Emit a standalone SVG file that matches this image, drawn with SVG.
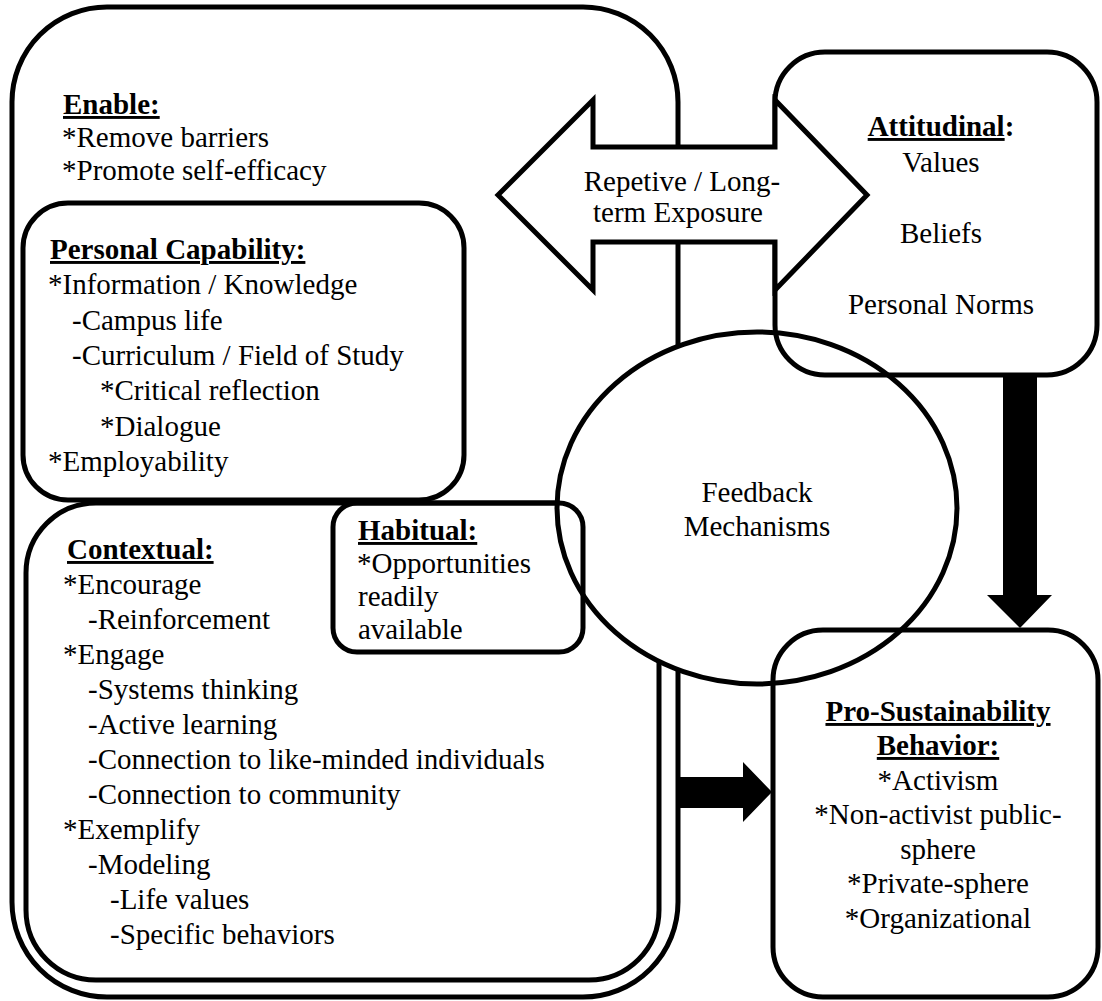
<svg xmlns="http://www.w3.org/2000/svg" width="1102" height="1001" viewBox="0 0 1102 1001">
<style>
.box{fill:none;stroke:#000;stroke-width:5}
.wbox{fill:#fff;stroke:#000;stroke-width:5}
text{font-family:"Liberation Serif","Times New Roman",serif;font-size:29px;fill:#000}
.b{font-weight:bold}
.u{text-decoration:underline}
.m{text-anchor:middle}
</style>
<rect width="1102" height="1001" fill="#fff"/>
<g id="outer">
<rect class="box" x="12" y="7" width="666" height="990" rx="95" ry="95"/>
</g>
<g id="contextual-box">
<rect class="box" x="26" y="503" width="633" height="477" rx="70" ry="70"/>
</g>
<g id="personal-capability-box">
<rect class="box" x="23" y="203" width="441" height="297" rx="45" ry="45"/>
</g>
<g id="feedback">
<ellipse class="wbox" cx="757" cy="508" rx="200" ry="176" stroke-width="4.5"/>
<text class="m" x="757" y="502">Feedback</text>
<text class="m" x="757" y="536">Mechanisms</text>
</g>
<g id="attitudinal">
<rect class="box" x="775" y="52" width="322" height="323" rx="50" ry="50"/>
<text class="m" x="941" y="136"><tspan class="b u">Attitudinal</tspan><tspan class="b">:</tspan></text>
<text class="m" x="941" y="172">Values</text>
<text class="m" x="941" y="243">Beliefs</text>
<text class="m" x="941" y="314">Personal Norms</text>
</g>
<g id="exposure">
<polygon class="wbox" stroke-linejoin="miter" points="498,195 593,100 593,147 775,147 775,100 867,195 775,290 775,242 593,242 593,290"/>
<text class="m" x="682" y="191">Repetive / Long-</text>
<text class="m" x="678" y="222">term Exposure</text>
</g>
<g id="habitual">
<rect class="box" x="333" y="503" width="250" height="149" rx="24" ry="24"/>
<text class="b u" x="358" y="540">Habitual:</text>
<text x="357" y="573">*Opportunities</text>
<text x="358" y="606">readily</text>
<text x="358" y="639">available</text>
</g>
<g id="pro-sustainability">
<rect class="box" x="773" y="630" width="325" height="367" rx="50" ry="50"/>
<text class="m b u" x="938" y="721">Pro-Sustainability</text>
<text class="m b u" x="938" y="755">Behavior:</text>
<text class="m" x="938" y="790">*Activism</text>
<text class="m" x="938" y="824">*Non-activist public-</text>
<text class="m" x="938" y="859">sphere</text>
<text class="m" x="938" y="893">*Private-sphere</text>
<text class="m" x="938" y="928">*Organizational</text>
</g>
<g id="enable">
<text class="b u" x="63" y="114">Enable:</text>
<text x="62" y="147">*Remove barriers</text>
<text x="62" y="180">*Promote self-efficacy</text>
</g>
<g id="personal-capability">
<text class="b u" x="50" y="259">Personal Capability:</text>
<text x="48" y="294">*Information / Knowledge</text>
<text x="72" y="330">-Campus life</text>
<text x="72" y="365">-Curriculum / Field of Study</text>
<text x="100" y="400">*Critical reflection</text>
<text x="100" y="436">*Dialogue</text>
<text x="48" y="471">*Employability</text>
</g>
<g id="contextual">
<text class="b u" x="67" y="559">Contextual:</text>
<text x="63" y="594">*Encourage</text>
<text x="88" y="629">-Reinforcement</text>
<text x="63" y="664">*Engage</text>
<text x="88" y="699">-Systems thinking</text>
<text x="88" y="734">-Active learning</text>
<text x="88" y="769">-Connection to like-minded individuals</text>
<text x="88" y="804">-Connection to community</text>
<text x="63" y="839">*Exemplify</text>
<text x="88" y="874">-Modeling</text>
<text x="110" y="909">-Life values</text>
<text x="110" y="944">-Specific behaviors</text>
</g>
<g id="connectors">
<polygon fill="#000" points="1003,375 1037,375 1037,595 1052,595 1020,628 987,595 1003,595"/>
<polygon fill="#000" points="677,777 743,777 743,762 772,792 743,822 743,808 677,808"/>
</g>
</svg>
